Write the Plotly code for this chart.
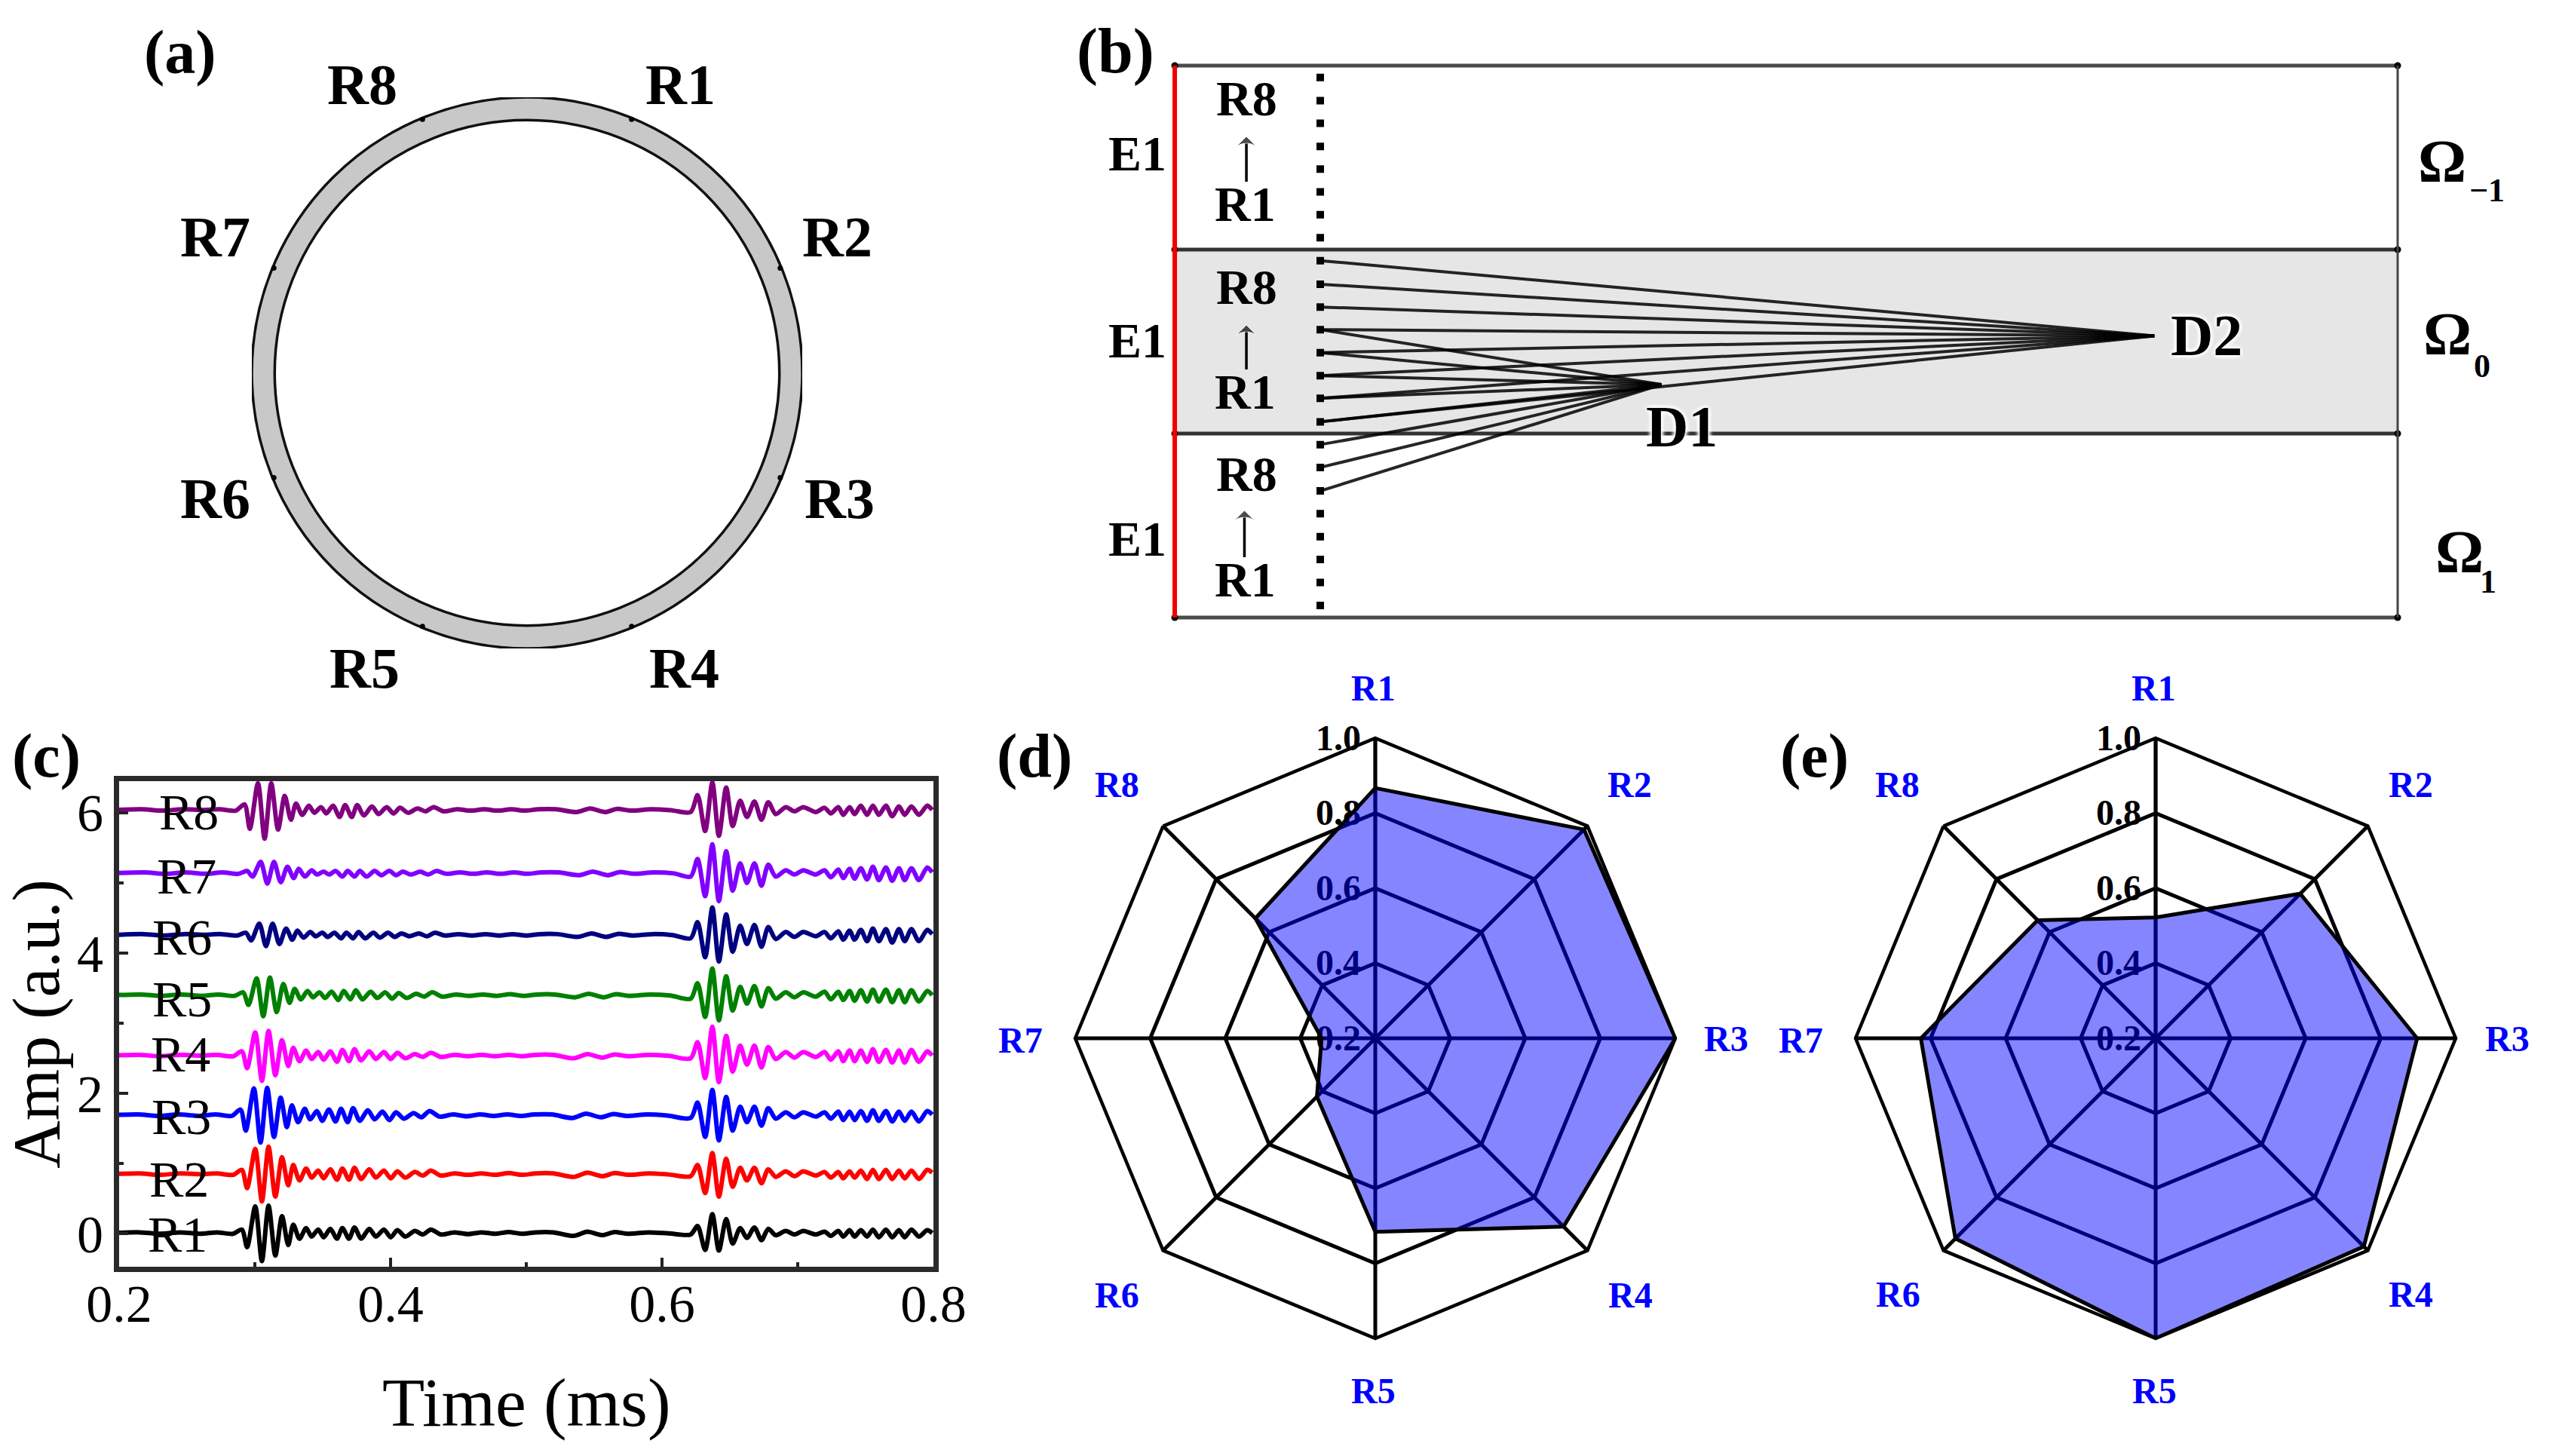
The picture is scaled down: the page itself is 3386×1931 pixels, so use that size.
import plotly.graph_objects as go

W, H = 3386, 1931
SERIF = "Liberation Serif"

# ---------- panel (c): time traces ----------
time_packet_1 = [.1950,.2150,.2300,.2450,.2600,.2720,.2840,.2904,.2943,.3003,.3052,.3101,.3151,.3200,.3246,.3283,.3329,.3378,.3418,.3467,.3507,.3556,.3605,.3645,.3694,.3734,.3783,.3843,.3892,.3951,.4001,.4050,.4109,.4179,.4238,.4297,.4370,.4470,.4570,.4670,.4770,.4870,.4970,.5070,.5200,.5350,.5450,.5560,.5650,.5750,.5900,.6050]
time_packet_2 = [.6211,.6262,.6318,.6371,.6419,.6473,.6521,.6576,.6626,.6681,.6733,.6783,.6838,.6912,.6976,.7041,.7133,.7198,.7244,.7299,.7336,.7382,.7419,.7465,.7511,.7554,.7598,.7650,.7696,.7746,.7788,.7838,.7893,.7954,.7991]
packet_1_shift = [0, 0, -.001, 0, .001, .003, .004, .002]
names = ["R1", "R2", "R3", "R4", "R5", "R6", "R7", "R8"]
baselines = [.01, .85, 1.69, 2.54, 3.40, 4.26, 5.14, 6.04]

R1_amp = [0,.01,-.01,.01,-.01,.01,-.01,.05,-.20,.38,-.40,.39,-.32,.24,-.17,.12,-.08,.07,-.05,.05,-.06,.06,-.08,.07,-.08,.08,-.08,.06,-.05,.05,-.06,.04,-.05,.03,-.02,.05,-.02,.01,-.015,.01,-.01,.015,-.01,.01,.01,-.04,.02,-.03,.015,-.01,.01,-.005,
          -.02,.10,-.24,.27,-.25,.20,-.15,.07,-.07,.08,-.10,.06,-.03,.03,-.02,.03,-.02,.02,-.04,.03,-.05,.04,-.05,.04,-.05,.05,-.06,.05,-.06,.04,-.06,.05,-.05,.04,0]
R2_amp = [0,.01,-.01,.01,0,.01,-.01,.06,-.20,.36,-.39,.39,-.32,.24,-.16,.13,-.09,.08,-.05,.05,-.06,.07,-.08,.08,-.08,.09,-.07,.07,-.05,.05,-.06,.04,-.05,.03,-.02,.05,-.02,.01,-.01,.01,-.01,.015,-.01,.01,.01,-.04,.02,-.03,.015,-.01,.01,-.005,
          -.03,.13,-.27,.30,-.32,.22,-.18,.09,-.09,.09,-.13,.07,-.04,.04,-.03,.04,-.02,.03,-.05,.03,-.06,.04,-.05,.05,-.07,.06,-.07,.06,-.07,.05,-.06,.05,-.07,.06,.02]
R3_amp = [0,.01,-.01,.01,-.01,.01,-.01,.08,-.22,.38,-.39,.39,-.31,.25,-.17,.14,-.10,.09,-.06,.06,-.08,.08,-.09,.09,-.10,.10,-.08,.07,-.06,.05,-.07,.04,-.05,.03,-.03,.06,-.02,.01,-.015,.01,-.01,.01,-.01,.01,.01,-.04,.02,-.03,.015,-.01,.01,-.005,
          -.04,.18,-.31,.36,-.36,.26,-.22,.12,-.10,.12,-.15,.10,-.05,.04,-.03,.04,-.02,.04,-.05,.05,-.07,.05,-.07,.06,-.08,.07,-.08,.06,-.09,.05,-.08,.05,-.09,.06,.01]
R4_amp = [0,.01,-.01,.01,0,.01,-.01,.06,-.18,.33,-.36,.35,-.28,.22,-.15,.11,-.08,.07,-.05,.05,-.06,.06,-.09,.08,-.08,.09,-.07,.06,-.05,.05,-.05,.04,-.04,.02,-.02,.04,-.02,.01,-.01,.01,-.01,.01,-.01,.01,.01,-.04,.02,-.03,.015,-.01,.01,-.005,
          -.04,.19,-.32,.41,-.38,.28,-.23,.14,-.13,.14,-.17,.12,-.05,.05,-.03,.05,-.02,.05,-.06,.06,-.08,.07,-.08,.07,-.09,.09,-.09,.08,-.10,.07,-.10,.08,-.09,.06,0]
R5_amp = [0,.01,-.01,.01,-.01,.01,-.01,.04,-.14,.24,-.30,.25,-.24,.16,-.11,.09,-.06,.06,-.03,.04,-.04,.05,-.07,.06,-.06,.07,-.06,.05,-.04,.04,-.05,.03,-.04,.02,-.02,.04,-.02,.01,-.01,.01,-.01,.015,-.01,.01,.01,-.03,.02,-.03,.015,-.01,.01,-.005,
          -.05,.17,-.31,.38,-.36,.27,-.22,.12,-.12,.13,-.16,.10,-.05,.04,-.03,.04,-.02,.05,-.06,.05,-.07,.06,-.08,.07,-.09,.08,-.09,.08,-.10,.07,-.10,.07,-.09,.06,0]
R6_amp = [0,.01,-.01,.01,0,.01,-.01,.03,-.08,.16,-.16,.16,-.13,.09,-.07,.06,-.04,.04,-.02,.03,-.03,.03,-.05,.03,-.05,.04,-.05,.03,-.04,.03,-.03,.02,-.02,.02,-.02,.03,-.01,.01,-.01,.01,-.01,.01,-.01,.01,.01,-.03,.02,-.03,.015,-.01,.01,-.005,
          -.05,.18,-.32,.39,-.38,.29,-.24,.13,-.13,.14,-.17,.11,-.06,.04,-.03,.04,-.02,.04,-.05,.05,-.07,.06,-.07,.07,-.09,.09,-.09,.08,-.11,.08,-.09,.08,-.09,.07,.01]
R7_amp = [0,.01,-.01,.01,-.01,.01,-.01,.03,-.05,.16,-.15,.16,-.13,.09,-.07,.06,-.05,.04,-.02,.02,-.02,.03,-.05,.03,-.05,.03,-.05,.03,-.03,.03,-.03,.02,-.02,.02,-.02,.03,-.01,.01,-.01,.01,-.01,.01,-.01,.01,.01,-.03,.02,-.03,.015,-.01,.01,-.005,
          -.05,.20,-.33,.41,-.40,.31,-.25,.14,-.14,.14,-.18,.12,-.05,.04,-.02,.04,-.02,.04,-.06,.05,-.07,.06,-.08,.07,-.09,.09,-.10,.08,-.11,.07,-.10,.07,-.10,.08,.01]
R8_amp = [0,.01,-.01,.01,0,.01,-.01,.08,-.27,.38,-.41,.38,-.28,.20,-.14,.09,-.07,.06,-.04,.04,-.05,.06,-.10,.07,-.10,.07,-.08,.05,-.06,.04,-.05,.03,-.04,.02,-.02,.04,-.02,.01,-.01,.01,-.01,.01,-.01,.01,.01,-.03,.02,-.03,.015,-.01,.01,-.005,
          -.03,.21,-.30,.39,-.37,.32,-.23,.13,-.10,.12,-.14,.11,-.06,.04,-.02,.04,-.03,.03,-.05,.04,-.07,.04,-.06,.06,-.07,.06,-.07,.06,-.09,.05,-.07,.05,-.07,.06,0]
trace_amps = [R1_amp, R2_amp, R3_amp, R4_amp, R5_amp, R6_amp, R7_amp, R8_amp]
trace_colors = ["#000000", "#ff0000", "#0000ff", "#ff00ff", "#008000", "#000080", "#8000ff", "#800080"]

# ---------- panels (d), (e): radar values ----------
radar_d = [.867, .987, 1.0, .91, .716, .42, .343, .652]
radar_e = [.522, .745, .897, .985, 1.0, .955, .826, .645]

# ---------- panel (a): receiver positions on the unit ring ----------
ring_x = [.38, .92, .92, .38, -.38, -.92, -.92, -.38]
ring_y = [.92, .38, -.38, -.92, -.92, -.38, .38, .92]

# ---------- panel (b): ray diagram ----------
sensor_y = [1.436,1.31,1.187,1.06,.938,.814,.69,.565,.44,.312,.188,.065,-.06,-.185,-.308,-.436,-.56,-.684,-.812,-.936,-1.06,-1.185,-1.31,-1.434]
sensor_x = .119
d2_rays_from = [.44,.312,.188,.065,-.06,-.185,-.308,-.436]
d1_rays_from = [.065,-.06,-.185,-.308,-.436,-.56,-.684,-.812]
d1_point = (.398, -.234)
d2_point = (.801, .031)
lane_edges = [1.5, .5, -.5, -1.5]
arrow_spans = [(.0586, .869, 1.115), (.0586, -.152, .09), (.057, -1.172, -.918)]


def dom_x(a, b):
    return [a / W, b / W]


def dom_y(top, bottom):
    return [1 - bottom / H, 1 - top / H]


def font(size, color="black", bold=False, **kw):
    return dict(family=SERIF, size=size, color=color, weight=700 if bold else 400, **kw)


anns = []


def label(text, x, y, size, color="black", bold=True, **kw):
    f = font(size, color, bold)
    if "shadow" in kw:
        f["shadow"] = kw.pop("shadow")
    anns.append(dict(text=text, x=x / W, y=1 - y / H, xref="paper", yref="paper",
                     showarrow=False, xanchor="center", yanchor="middle", font=f, **kw))


fig = go.Figure()

# panel (a)
fig.add_trace(go.Scatter(x=ring_x, y=ring_y, xaxis="x2", yaxis="y2", mode="markers", cliponaxis=False,
                         marker=dict(color="black", size=7), showlegend=False, hoverinfo="skip"))
shapes = [
    dict(type="circle", xref="x2", yref="y2", x0=-1, x1=1, y0=-1, y1=1,
         fillcolor="#c8c8c8", line=dict(color="#111", width=3.5), layer="below"),
    dict(type="circle", xref="x2", yref="y2", x0=-.917, x1=.917, y0=-.917, y1=.917,
         fillcolor="white", line=dict(color="#111", width=3.5), layer="below"),
    dict(type="rect", xref="x3", yref="y3", x0=0, x1=1, y0=-.5, y1=.5,
         fillcolor="#e6e6e6", line=dict(width=0), layer="below"),
]

# panel (b)
for i, e in enumerate(lane_edges):
    fig.add_trace(go.Scatter(x=[0, 1], y=[e, e], xaxis="x3", yaxis="y3", mode="lines+markers",
                             line=dict(color="#4a4a4a" if i in (0, 3) else "#333", width=5),
                             marker=dict(color="black", size=9), showlegend=False, hoverinfo="skip"))
fig.add_trace(go.Scatter(x=[1, 1], y=[lane_edges[0], lane_edges[-1]], xaxis="x3", yaxis="y3", mode="lines",
                         line=dict(color="#444", width=3), showlegend=False, hoverinfo="skip"))
fig.add_trace(go.Scatter(x=[0, 0], y=[lane_edges[0], lane_edges[-1]], xaxis="x3", yaxis="y3", mode="lines",
                         line=dict(color="#f00000", width=6), showlegend=False, hoverinfo="skip"))
for starts, pt in ((d2_rays_from, d2_point), (d1_rays_from, d1_point)):
    for s in starts:
        fig.add_trace(go.Scatter(x=[sensor_x, pt[0]], y=[s, pt[1]], xaxis="x3", yaxis="y3", mode="lines",
                                 line=dict(color="rgba(0,0,0,.85)", width=4),
                                 showlegend=False, hoverinfo="skip"))
fig.add_trace(go.Scatter(x=[sensor_x] * len(sensor_y), y=sensor_y, xaxis="x3", yaxis="y3", mode="markers",
                         marker=dict(symbol="square", color="black", size=10),
                         showlegend=False, hoverinfo="skip"))
for x0, y0, y1 in arrow_spans:
    fig.add_trace(go.Scatter(x=[x0, x0], y=[y0, y1], xaxis="x3", yaxis="y3", mode="lines+markers",
                             line=dict(color="black", width=3.5),
                             marker=dict(symbol="arrow-wide", angleref="previous", size=[1, 22], color="black"),
                             showlegend=False, hoverinfo="skip"))

# panel (c)
for i in range(8):
    t = [v + packet_1_shift[i] for v in time_packet_1] + time_packet_2
    y = [baselines[i] + a for a in trace_amps[i]]
    fig.add_trace(go.Scatter(x=t, y=y, mode="lines", name=names[i], xaxis="x", yaxis="y",
                             line=dict(color=trace_colors[i], width=6, shape="spline", smoothing=.8),
                             showlegend=False))

# panels (d), (e)
for sub, vals in (("polar", radar_d), ("polar2", radar_e)):
    fig.add_trace(go.Scatterpolar(r=vals + vals[:1], theta=names + names[:1], subplot=sub, mode="lines",
                                  fill="toself", fillcolor="rgba(0,0,255,.48)",
                                  line=dict(color="black", width=5), showlegend=False))

polar_common = dict(
    bgcolor="white",
    gridshape="linear",
    angularaxis=dict(direction="clockwise", rotation=90, categoryorder="array", categoryarray=names,
                     gridcolor="black", gridwidth=4.5, linecolor="black", linewidth=4.5,
                     showticklabels=False, ticks=""),
    radialaxis=dict(range=[.2, 1], tickvals=[.2, .4, .6, .8, 1.0], ticktext=["0.2", "0.4", "0.6", "0.8", "1.0"],
                    angle=90, side="counterclockwise", tickangle=90, layer="below traces",
                    gridcolor="black", gridwidth=4.5, linecolor="black", linewidth=4.5,
                    ticks="", tickfont=font(48, "black", True)),
)
R_D = 398
CY = 1377


def polar_layout(cx):
    return dict(domain=dict(x=dom_x(cx - R_D, cx + R_D), y=dom_y(CY - R_D, CY + R_D)), **polar_common)


# text labels
label("(a)", 239, 69, 82)
label("(b)", 1479, 68, 84)
label("(c)", 62, 1002, 82)
label("(d)", 1372, 1002, 82)
label("(e)", 2406, 1002, 82)

for txt, x, y in (("R8", 480, 112), ("R1", 903, 112), ("R2", 1110, 314), ("R7", 285, 314),
                  ("R3", 1113, 661), ("R6", 285, 661), ("R5", 483, 886), ("R4", 908, 886)):
    label(txt, x, y, 76)

for cy8, cy1 in ((131, 270), (380, 519), (628, 768)):
    label("R8", 1653, cy8, 66)
    label("R1", 1651, cy1, 66)
for y in (203, 451, 714):
    label("E1", 1508, y, 66)
label("Ω", 3239, 214, 80)
label("−1", 3298, 252, 44)
label("Ω", 3246, 443, 80)
label("0", 3292, 485, 44)
label("Ω", 3262, 732, 80)
label("1", 3300, 771, 44)
halo = "0 0 6px white, 0 0 6px white, 0 0 6px white, 0 0 6px white"
label("D2", 2926, 445, 78, shadow=halo)
label("D1", 2230, 565, 78, shadow=halo)

for txt, x, y in (("R8", 250, 1077), ("R7", 248, 1162), ("R6", 242, 1243), ("R5", 242, 1325),
                  ("R4", 239, 1398), ("R3", 240, 1481), ("R2", 237, 1564), ("R1", 235, 1637)):
    label(txt, x, y, 68, bold=False)
label("Time (ms)", 698, 1860, 92, bold=False)

for txt, x, y in (("R1", 1821, 912), ("R2", 2161, 1040), ("R3", 2289, 1377), ("R4", 2162, 1717),
                  ("R5", 1822, 1844), ("R6", 1481, 1717), ("R7", 1353, 1379), ("R8", 1481, 1040),
                  ("R1", 2856, 912), ("R2", 3197, 1040), ("R3", 3325, 1377), ("R4", 3197, 1716),
                  ("R5", 2857, 1844), ("R6", 2517, 1716), ("R7", 2388, 1379), ("R8", 2516, 1040)):
    label(txt, x, y, 48, color="#0000ff")

fig.update_layout(
    width=W, height=H, margin=dict(l=0, r=0, t=0, b=0), paper_bgcolor="white", plot_bgcolor="white",
    showlegend=False, annotations=anns, shapes=shapes,
    xaxis=dict(domain=dom_x(158, 1238), range=[.2, .8], anchor="y", tickvals=[.2, .4, .6, .8], automargin=False,
               ticktext=["0.2", "0.4", "0.6", "0.8"], ticks="inside", ticklen=12, tickwidth=4, tickcolor="#222",
               minor=dict(tickvals=[.3, .5, .7], ticks="inside", ticklen=6, tickwidth=4, tickcolor="#222"),
               showline=True, mirror=True, linecolor="#2a2a2a", linewidth=7, showgrid=False, zeroline=False,
               ticklabelstandoff=-18, tickfont=font(70)),
    yaxis=dict(domain=dom_y(1036, 1680), range=[-.47, 6.45], anchor="x", tickvals=[0, 2, 4, 6], automargin=False,
               ticktext=["0", "2", "4", "6"], ticks="inside", ticklen=12, tickwidth=4, tickcolor="#222",
               minor=dict(tickvals=[1, 3, 5], ticks="inside", ticklen=6, tickwidth=4, tickcolor="#222"),
               showline=True, mirror=True, linecolor="#2a2a2a", linewidth=7, showgrid=False, zeroline=False,
               tickfont=font(70), title=dict(text="Amp (a.u.)", font=font(88))),
    xaxis2=dict(domain=dom_x(334, 1064), range=[-1, 1], anchor="y2", visible=False),
    yaxis2=dict(domain=dom_y(129, 860), range=[-1, 1], anchor="x2", visible=False),
    xaxis3=dict(domain=dom_x(1541.8, 3196.2), range=[-.01, 1.01], anchor="y3", visible=False),
    yaxis3=dict(domain=dom_y(79.7, 826.3), range=[-1.53, 1.53], anchor="x3", visible=False),
    polar=polar_layout(1824),
    polar2=polar_layout(2859),
)

fig.write_html("out.html", config=dict(displayModeBar=False),
               post_script="document.body.style.margin='0';document.documentElement.style.overflow='hidden';")
